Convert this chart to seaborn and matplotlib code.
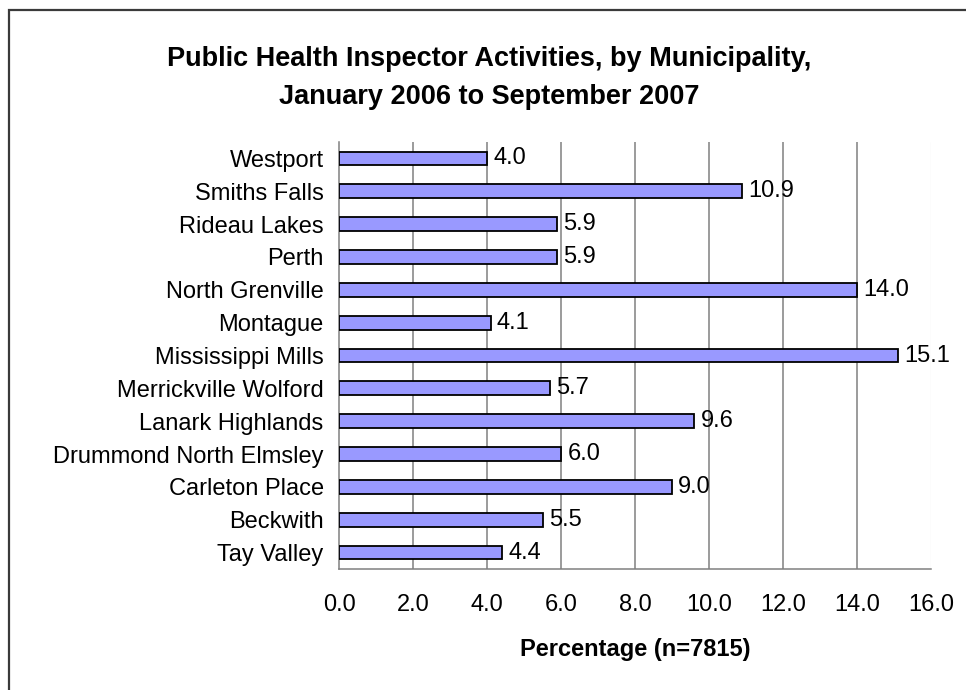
import matplotlib
matplotlib.use('Agg')
import matplotlib.pyplot as plt
import pandas as pd
import seaborn as sns
from matplotlib.patches import Rectangle

# Dados
municipalities = ['Westport', 'Smiths Falls', 'Rideau Lakes', 'Perth', 'North Grenville',
                  'Montague', 'Mississippi Mills', 'Merrickville Wolford', 'Lanark Highlands',
                  'Drummond North Elmsley', 'Carleton Place', 'Beckwith', 'Tay Valley']
percentages = [4.0, 10.9, 5.9, 5.9, 14.0, 4.1, 15.1, 5.7, 9.6, 6.0, 9.0, 5.5, 4.4]
x_ticks = [0, 2, 4, 6, 8, 10, 12, 14, 16]

df = pd.DataFrame({'municipality': municipalities, 'pct': percentages})

sns.set_style('white')
plt.rcParams['font.family'] = ['Liberation Sans', 'DejaVu Sans']
plt.rcParams['text.color'] = 'black'
plt.rcParams['xtick.labelcolor'] = 'black'
plt.rcParams['ytick.labelcolor'] = 'black'
plt.rcParams['axes.labelcolor'] = 'black'

fig, ax = plt.subplots(figsize=(9.66, 6.9), dpi=100)
fig.subplots_adjust(left=339/966, right=931/966, top=1 - 142/690, bottom=1 - 569/690)

# moldura externa (estilo Excel)
fig.patches.append(Rectangle((9/966, -0.1), 1.2, 1.1 - 10/690, transform=fig.transFigure,
                             fill=False, edgecolor='#3a3a3a', linewidth=1.6))

sns.barplot(data=df, x='pct', y='municipality', order=municipalities, orient='h',
            color='#9999FF', edgecolor='black', linewidth=1.3, width=0.42,
            saturation=1, ax=ax, zorder=3)

# grade vertical
for v in x_ticks[1:-1]:
    ax.axvline(v, color='#808080', linewidth=1.1, zorder=1)
ax.axvline(16, color='#f0f0f0', linewidth=1.0, zorder=1)

# rótulos dos valores
for i, v in enumerate(percentages):
    ax.text(v + 0.17, i, f'{v:.1f}', va='center', ha='left', fontsize=17, color='black', zorder=4)

ax.set_xlim(0, 16)
ax.set_ylim(len(municipalities) - 0.5, -0.5)
ax.set_xticks(x_ticks)
ax.set_xticklabels([f'{v:.1f}' for v in x_ticks], fontsize=17)
ax.tick_params(axis='x', direction='out', length=6, width=1.1, color='#808080', pad=12)

# marcas do eixo y entre as categorias
ax.set_yticks(range(len(municipalities)))
ax.set_yticklabels(municipalities, fontsize=17)
ax.tick_params(axis='y', which='major', length=0, pad=11)
ax.set_yticks([i - 0.5 for i in range(len(municipalities) + 1)], minor=True)
ax.tick_params(axis='y', which='minor', direction='out', length=6, width=1.1, color='#808080')

for s in ['top', 'right']:
    ax.spines[s].set_visible(False)
for s in ['left', 'bottom']:
    ax.spines[s].set_color('#808080')
    ax.spines[s].set_linewidth(1.1)

ax.set_xlabel('Percentage (n=7815)', fontsize=17, fontweight='bold', labelpad=16)
ax.set_ylabel('')

fig.text(489/966, 1 - 78/690,
         'Public Health Inspector Activities, by Municipality,\nJanuary 2006 to September 2007',
         ha='center', va='center', fontsize=19.5, fontweight='bold', linespacing=1.6)

fig.savefig('out.png', dpi=100)
